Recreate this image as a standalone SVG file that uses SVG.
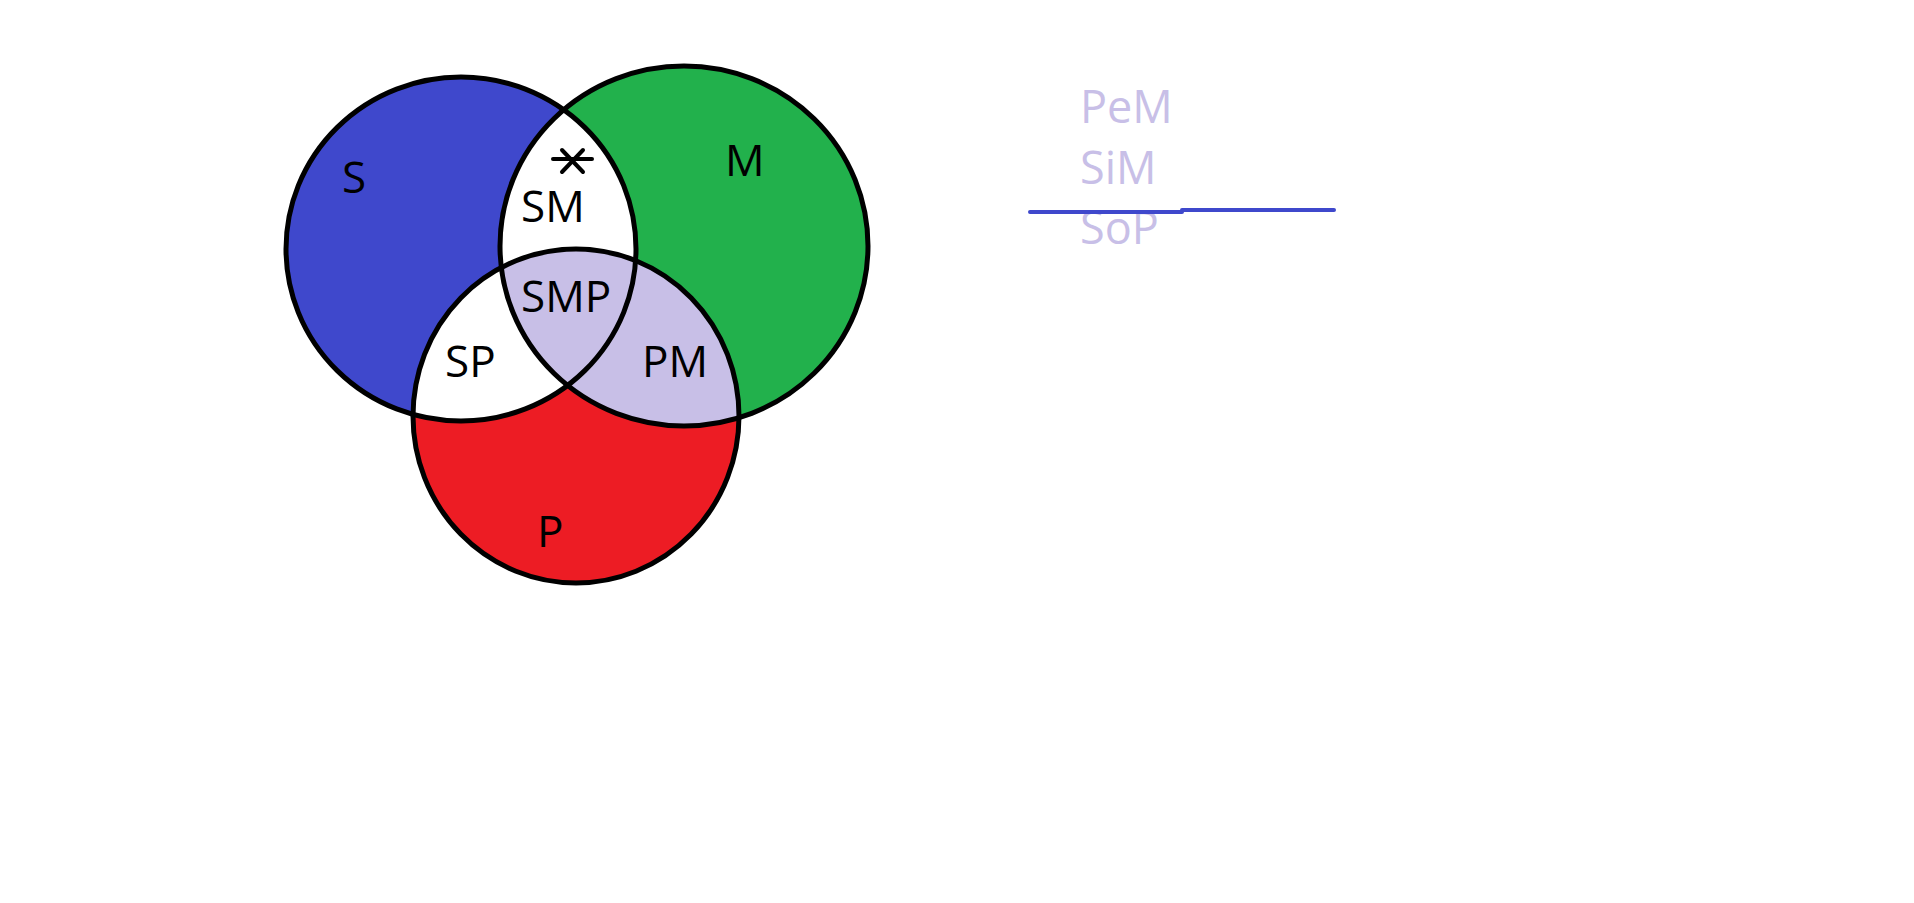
<svg xmlns="http://www.w3.org/2000/svg" width="1914" height="903" viewBox="0 0 1914 903">
<style>
.lbl{font-family:"Open Sans","Noto Sans","Liberation Sans",sans-serif;font-size:44px;fill:#000}
.prem{font-family:"Open Sans","Noto Sans","Liberation Sans",sans-serif;font-size:45px;fill:#C8BFE7}
.ring{fill:none;stroke:#000;stroke-width:5}
</style>
<defs>
<ellipse id="eS" cx="461" cy="249" rx="175" ry="172"/>
<ellipse id="eM" cx="684" cy="246" rx="184" ry="180"/>
<ellipse id="eP" cx="576" cy="416" rx="163" ry="167"/>
<clipPath id="cS"><use href="#eS"/></clipPath>
<clipPath id="cM"><use href="#eM"/></clipPath>
</defs>
<rect width="1914" height="903" fill="#fff"/>
<g id="fills">
<use href="#eS" fill="#3F48CC"/>
<use href="#eM" fill="#22B14C"/>
<use href="#eP" fill="#ED1C24"/>
<use href="#eM" fill="#fff" clip-path="url(#cS)"/>
<use href="#eP" fill="#fff" clip-path="url(#cS)"/>
<use href="#eP" fill="#C8BFE7" clip-path="url(#cM)"/>
</g>
<g id="node-S"><use href="#eS" class="ring"/><text class="lbl" x="342" y="193">S</text></g>
<g id="node-M"><use href="#eM" class="ring"/><text class="lbl" x="725" y="176">M</text></g>
<g id="node-P"><use href="#eP" class="ring"/><text class="lbl" x="537" y="547">P</text></g>
<g id="regions">
<text class="lbl" x="521" y="222">SM</text>
<text class="lbl" x="521" y="312">SMP</text>
<text class="lbl" x="445" y="377">SP</text>
<text class="lbl" x="642" y="377">PM</text>
</g>
<g id="mark" stroke="#000" stroke-width="4" stroke-linecap="round">
<line x1="553" y1="159" x2="592" y2="159"/>
<line x1="562" y1="150" x2="583" y2="172"/>
<line x1="583" y1="150" x2="562" y2="172"/>
</g>
<g id="syllogism">
<text class="prem" x="1080" y="123">PeM</text>
<text class="prem" x="1080" y="184">SiM</text>
<text class="prem" x="1080" y="244">SoP</text>
</g>
<g id="connectors" stroke="#3F48CC" stroke-width="4" stroke-linecap="round" fill="none">
<path d="M1030 212 L1182 212 M1182 210 L1334 210"/>
</g>
</svg>
